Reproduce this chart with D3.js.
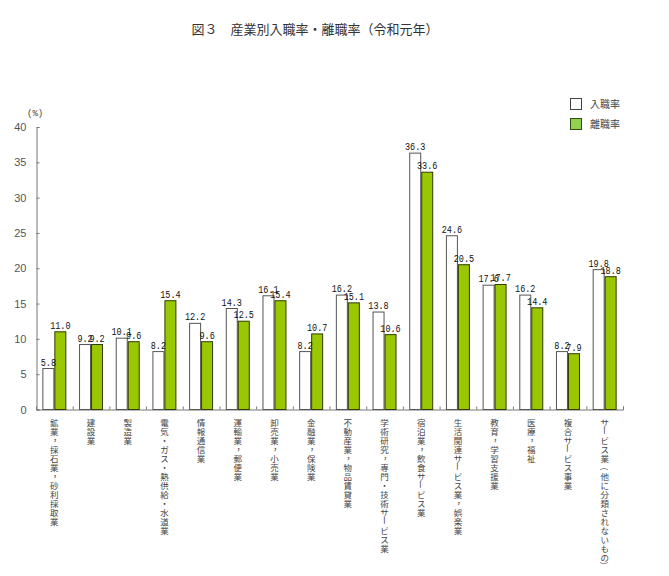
<!DOCTYPE html>
<html><head><meta charset="utf-8">
<script src="https://cdn.jsdelivr.net/npm/d3@7"></script>
<style>
body{margin:0;background:#fff;}
svg{display:block;}
</style></head>
<body>
<script>
const categories = [
 "鉱業，採石業，砂利採取業","建設業","製造業","電気・ガス・熱供給・水道業","情報通信業",
 "運輸業，郵便業","卸売業，小売業","金融業，保険業","不動産業，物品賃貸業",
 "学術研究，専門・技術サービス業","宿泊業，飲食サービス業","生活関連サービス業，娯楽業",
 "教育，学習支援業","医療，福祉","複合サービス事業","サービス業（他に分類されないもの）"
];
const seriesNames = ["入職率","離職率"];
const entryRate = [5.8,9.2,10.1,8.2,12.2,14.3,16.1,8.2,16.2,13.8,36.3,24.6,17.6,16.2,8.2,19.8];
const exitRate  = [11.0,9.2,9.6,15.4,9.6,12.5,15.4,10.7,15.1,10.6,33.6,20.5,17.7,14.4,7.9,18.8];
const yTicks = [0,5,10,15,20,25,30,35,40];
const title = "図３　産業別入職率・離職率（令和元年）";
const unitLabel = "(%)";

const W=669,H=576;
const colors = ["#ffffff","#99c800"];
const jp = "'Noto Sans CJK JP','Noto Sans',sans-serif";

const svg = d3.select("body").append("svg").attr("width",W).attr("height",H);

const x0 = d3.scaleBand().domain(d3.range(categories.length)).range([36,623]).paddingInner(0).paddingOuter(0);
const x1 = d3.scaleBand().domain([0,1]).range([0,x0.bandwidth()]).paddingInner(0).paddingOuter(0.53);
const y = d3.scaleLinear().domain([0,40]).range([409.5,127]);

// title
svg.append("text").attr("x",315).attr("y",34).attr("text-anchor","middle")
  .style("font-family",jp).style("font-size","13px").attr("fill","#333").text(title);

// unit
svg.append("text").attr("x",27).attr("y",116)
  .style("font-family","'Liberation Mono',monospace").style("font-size","9px").attr("fill","#444").text(unitLabel);

// y axis
const yAxis = d3.axisLeft(y).tickValues(yTicks).tickSize(-3).tickPadding(10);
const gy = svg.append("g").attr("transform","translate(36.5,0)").call(yAxis);
gy.select(".domain").attr("stroke","#777");
gy.selectAll(".tick line").attr("stroke","#777");
gy.selectAll(".tick text").style("font-family","'Liberation Sans',sans-serif").style("font-size","11px").attr("fill","#555");

// x axis
const xAxis = d3.axisBottom(d3.scaleLinear().domain([0,categories.length]).range([36,623]))
  .tickValues(d3.range(1,categories.length+1)).tickSize(-3).tickFormat("");
const gx = svg.append("g").attr("transform","translate(0,409.5)").call(xAxis);
gx.select(".domain").attr("stroke","#777");
gx.selectAll(".tick line").attr("stroke","#777");

// bars
const data = categories.map((c,i)=>({c,i,vals:[entryRate[i],exitRate[i]]}));
const groups = svg.append("g").selectAll("g").data(data).join("g")
  .attr("transform",d=>`translate(${x0(d.i)},0)`);
groups.selectAll("rect").data(d=>d.vals.map((v,k)=>({v,k}))).join("rect")
  .attr("x",d=>x1(d.k)+0.5).attr("width",x1.bandwidth()-1)
  .attr("y",d=>y(d.v)).attr("height",d=>y(0)-y(d.v))
  .attr("fill",d=>colors[d.k]).attr("stroke",d=>d.k===0?"#555":"#2f3a00").attr("stroke-width",1);
groups.selectAll("text.val").data(d=>d.vals.map((v,k)=>({v,k}))).join("text")
  .attr("class","val")
  .attr("x",d=>x1(d.k)+x1.bandwidth()/2).attr("y",d=>y(d.v)-3)
  .attr("text-anchor","middle")
  .style("font-family","'Liberation Mono',monospace").style("font-size","10.5px")
  .attr("textLength",d=>d3.format(".1f")(d.v).length*5.1).attr("lengthAdjust","spacingAndGlyphs")
  .attr("fill","#111").text(d=>d3.format(".1f")(d.v));

// category labels (vertical, one glyph per step)
const rotChars = new Set(["ー","（","）"]);
const step = 9;
const labG = svg.append("g").selectAll("g").data(categories).join("g")
  .attr("class","cat");
labG.each(function(d,i){
  const g = d3.select(this);
  const cx = x0(i)+x0.bandwidth()/2;
  const t = g.append("text").style("font-family",jp).style("font-size","8.5px").attr("fill","#444")
    .attr("text-anchor","middle").attr("dominant-baseline","central");
  Array.from(d).forEach((ch,j)=>{
    const cy = 421.5 + j*step;
    if(rotChars.has(ch)){
      g.append("text").style("font-family",jp).style("font-size","8.5px").attr("fill","#444")
        .attr("text-anchor","middle").attr("dominant-baseline","central")
        .attr("x",cx).attr("y",cy).attr("transform",`rotate(90,${cx},${cy})`).text(ch);
    } else {
      const dx = (ch==="，") ? 3 : 0, dy = (ch==="，") ? -3 : 0;
      t.append("tspan").attr("x",cx+dx).attr("y",cy+dy).text(ch);
    }
  });
});

// legend
const lg = svg.append("g");
seriesNames.forEach((n,k)=>{
  lg.append("rect").attr("x",570.5).attr("y",98.5+k*20).attr("width",11).attr("height",11)
    .attr("fill",k===0?"#fff":"#92d050").attr("stroke",k===0?"#444":"#2f4f10");
  lg.append("text").attr("x",590).attr("y",108+k*20).style("font-family",jp).style("font-size","10px")
    .attr("fill","#444").text(n);
});
</script>
</body></html>
